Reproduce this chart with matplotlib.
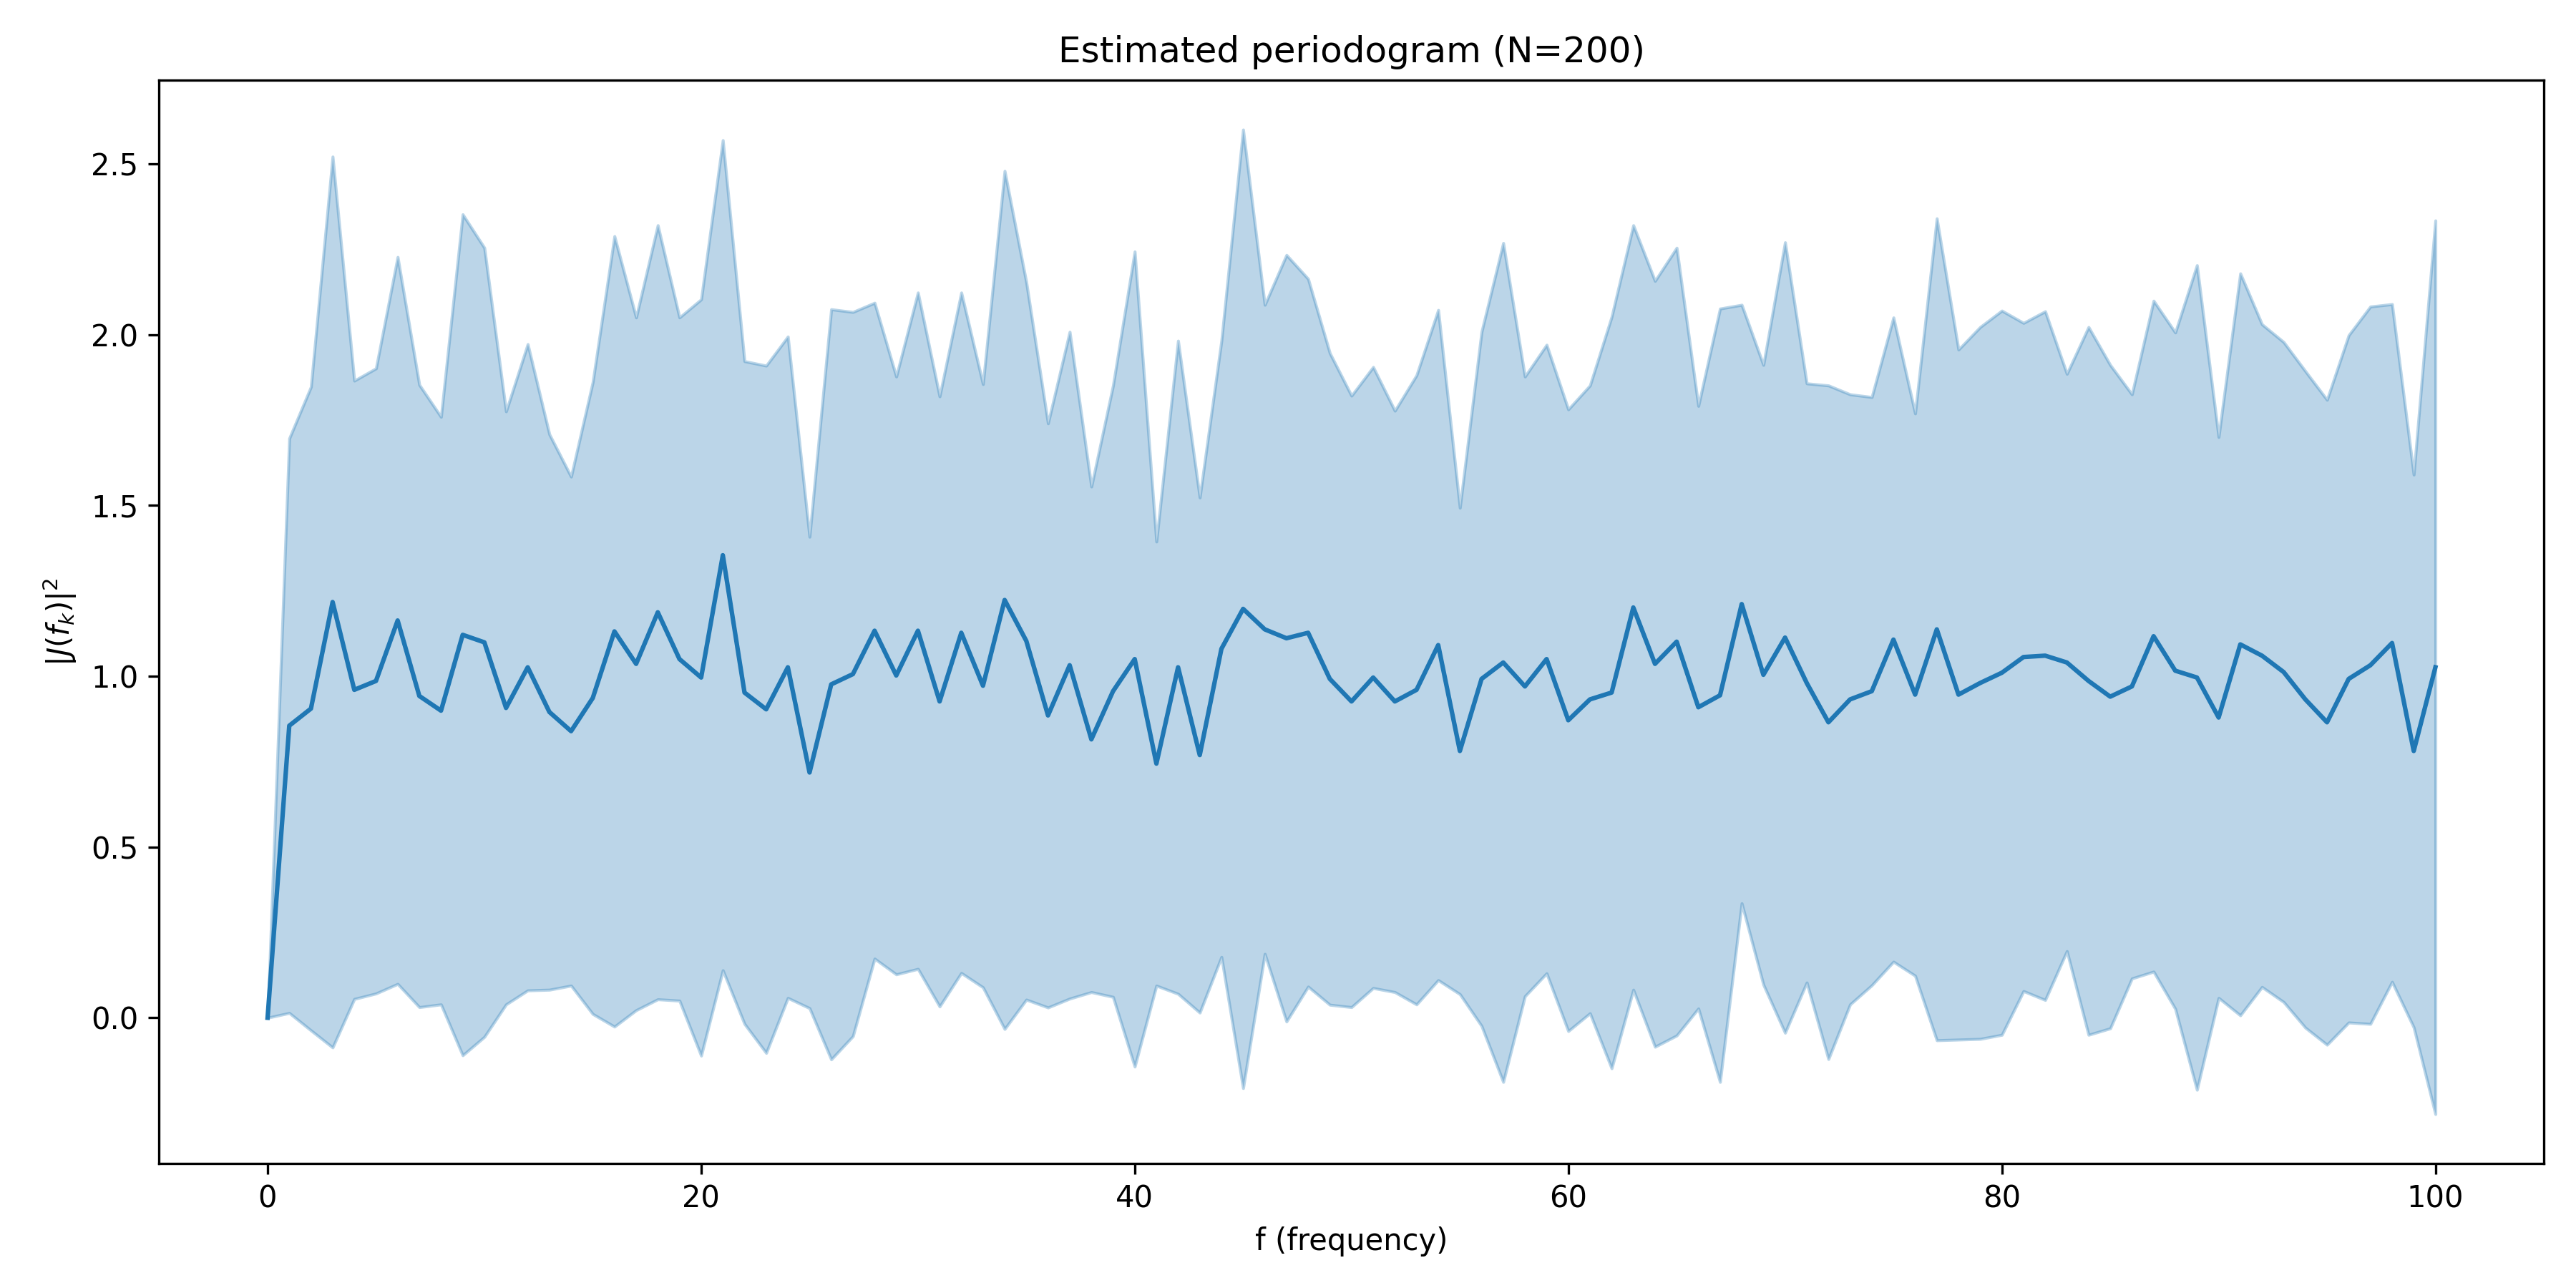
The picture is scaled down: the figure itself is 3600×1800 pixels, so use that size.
import numpy as np
import matplotlib
matplotlib.use("Agg")
import matplotlib.pyplot as plt

freq = list(range(101))

mean_vals = [
    0.000, 0.855, 0.905, 1.217, 0.960, 0.986, 1.163, 0.942, 0.899, 1.121,
    1.099, 0.907, 1.026, 0.895, 0.839, 0.936, 1.131, 1.036, 1.187, 1.050,
    0.996, 1.354, 0.952, 0.903, 1.026, 0.718, 0.976, 1.006, 1.133, 1.002,
    1.133, 0.926, 1.127, 0.972, 1.223, 1.103, 0.885, 1.032, 0.815, 0.956,
    1.050, 0.744, 1.026, 0.769, 1.080, 1.197, 1.137, 1.111, 1.127, 0.992,
    0.926, 0.996, 0.926, 0.960, 1.091, 0.781, 0.992, 1.040, 0.970, 1.050,
    0.871, 0.932, 0.952, 1.201, 1.036, 1.101, 0.909, 0.944, 1.211, 1.004,
    1.113, 0.980, 0.865, 0.932, 0.956, 1.107, 0.946, 1.137, 0.946, 0.980,
    1.010, 1.056, 1.060, 1.040, 0.986, 0.940, 0.970, 1.117, 1.016, 0.996,
    0.879, 1.093, 1.060, 1.012, 0.932, 0.865, 0.992, 1.032, 1.097, 0.781,
    1.026,
]

upper_vals = [
    0.000, 1.696, 1.847, 2.521, 1.865, 1.901, 2.227, 1.853, 1.759, 2.352,
    2.254, 1.775, 1.972, 1.708, 1.584, 1.861, 2.288, 2.050, 2.320, 2.050,
    2.103, 2.569, 1.922, 1.909, 1.994, 1.408, 2.074, 2.066, 2.093, 1.877,
    2.123, 1.819, 2.123, 1.855, 2.479, 2.153, 1.740, 2.008, 1.555, 1.851,
    2.243, 1.394, 1.982, 1.523, 1.982, 2.600, 2.087, 2.233, 2.163, 1.946,
    1.821, 1.905, 1.777, 1.881, 2.072, 1.493, 2.008, 2.268, 1.877, 1.970,
    1.781, 1.851, 2.052, 2.320, 2.157, 2.254, 1.791, 2.076, 2.087, 1.911,
    2.270, 1.857, 1.851, 1.825, 1.817, 2.050, 1.769, 2.340, 1.956, 2.022,
    2.070, 2.034, 2.068, 1.885, 2.022, 1.911, 1.825, 2.099, 2.006, 2.203,
    1.700, 2.179, 2.030, 1.978, 1.893, 1.809, 1.998, 2.082, 2.089, 1.590,
    2.334,
]

f = np.array(freq)
m = np.array(mean_vals)
sd = np.array(upper_vals) - m

fig, ax = plt.subplots(figsize=(12, 6), dpi=300)
ax.plot(f, m, color="C0")
ax.fill_between(f, m - sd, m + sd, color="C0", alpha=0.3)
ax.set_title("Estimated periodogram (N=200)")
ax.set_xlabel("f (frequency)")
ax.set_ylabel(r"$|J(f_k)|^2$")
fig.subplots_adjust(left=0.0618, right=0.9875, top=0.9376, bottom=0.0968)
fig.savefig("out.png", dpi=300)
